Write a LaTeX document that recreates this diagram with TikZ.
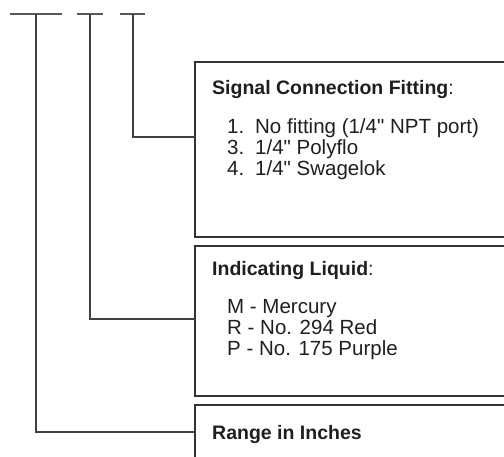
\documentclass[tikz,border=0pt]{standalone}
\usepackage{fontspec}
\setmainfont{Liberation Sans}[Ligatures=TeXOff]
\begin{document}
\begin{tikzpicture}[x=1pt,y=-1pt,
  tick/.style={draw=black!65,line width=1.3pt},
  lead/.style={draw=black!75,line width=1.1pt},
  box/.style={draw=black!80,line width=1.1pt},
  txt/.style={anchor=base west,inner sep=0pt,font=\fontsize{20.5}{24}\selectfont,text=black!88},
  head/.style={txt,font=\fontsize{19.5}{24}\selectfont}]
\useasboundingbox (0,0) rectangle (504,457);
% ticks
\coordinate (t1a) at (10,14); \coordinate (t1b) at (62,14); \coordinate (t1) at (36,14);
\coordinate (t2a) at (77,14); \coordinate (t2b) at (103,14); \coordinate (t2) at (90,14);
\coordinate (t3a) at (120,14); \coordinate (t3b) at (145,14); \coordinate (t3) at (133,14);
\draw[tick] (t1a) -- (t1b);
\draw[tick] (t2a) -- (t2b);
\draw[tick] (t3a) -- (t3b);
% boxes (open to the right)
\draw[box] (506,62) -- (195,62) -- (195,237) -- (506,237);
\draw[box] (506,246) -- (195,246) -- (195,396) -- (506,396);
\draw[box] (506,405) -- (195,405) -- (195,459);
\coordinate (c1) at (195,137);
\coordinate (c2) at (195,319);
\coordinate (c3) at (195,432);
\draw[lead] (t3) |- (c1);
\draw[lead] (t2) |- (c2);
\draw[lead] (t1) |- (c3);
% texts
\newcommand{\num}[1]{\makebox[28pt][l]{#1}}
\node[head] (h1) at (212,95) {\textbf{Signal Connection Fitting}:};
\node[txt] (a1) at (227,134) {\num{1.}No fitting (1/4" NPT port)};
\node[txt] (a3) at (227,155) {\num{3.}1/4" Polyflo};
\node[txt] (a4) at (227,176) {\num{4.}1/4" Swagelok};
\node[head] (h2) at (212,276) {\textbf{Indicating Liquid}:};
\node[txt] (bm) at (227,314) {M - Mercury};
\node[txt] (br) at (227,335) {R - No. 294 Red};
\node[txt] (bp) at (227,356) {P - No. 175 Purple};
\node[head] (h3) at (212,439) {\textbf{Range in Inches}};
\end{tikzpicture}
\end{document}
